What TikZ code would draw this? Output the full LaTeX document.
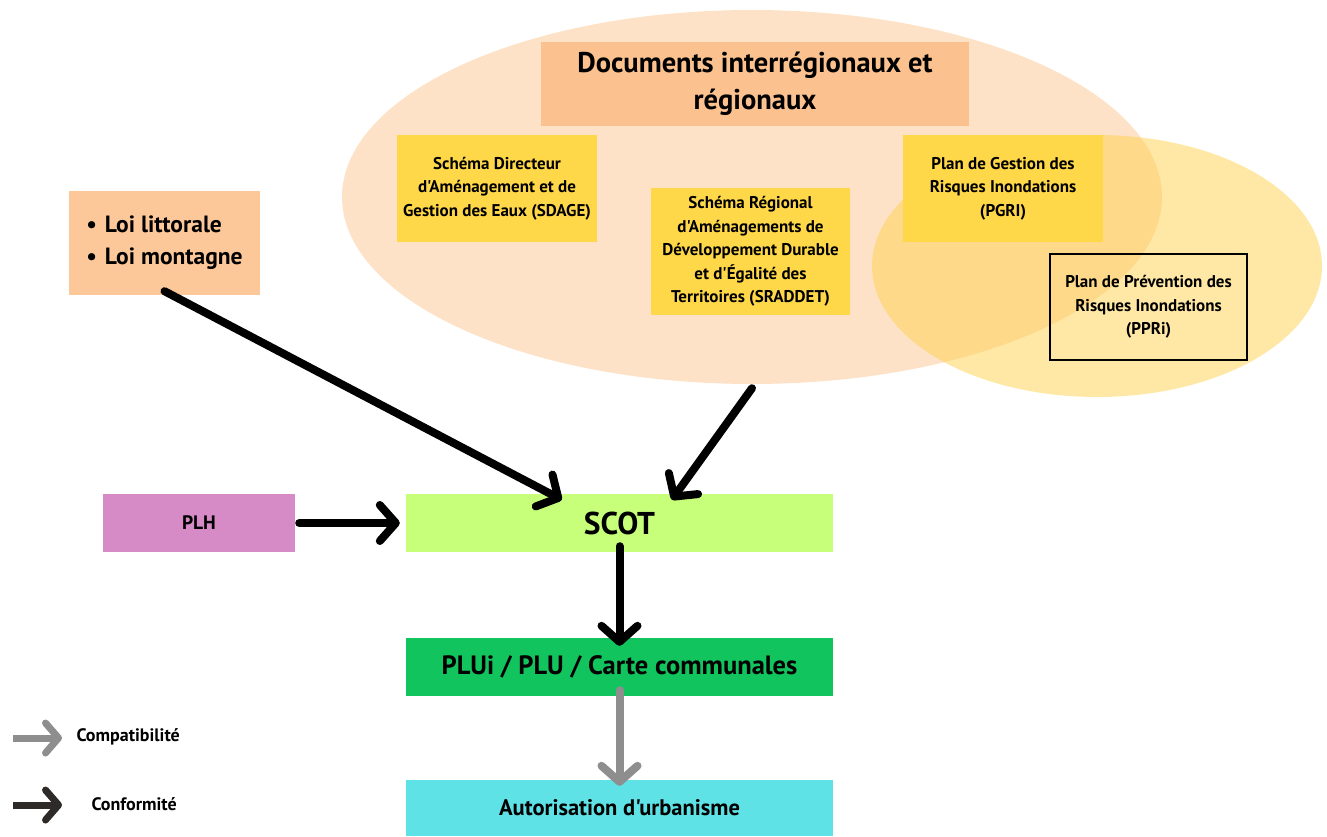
\documentclass[tikz,border=0pt]{standalone}
\usepackage{fontspec}
\setmainfont{PT Sans}[Ligatures=TeXOff]
\usetikzlibrary{shapes.geometric,arrows.meta}
\definecolor{peachell}{HTML}{FDE2C8}
\definecolor{yellell}{HTML}{FFD24D}
\definecolor{titlebox}{HTML}{FBC18F}
\definecolor{loibox}{HTML}{FCC799}
\definecolor{docbox}{HTML}{FFD84A}
\definecolor{plhbox}{HTML}{D68BC6}
\definecolor{scotbox}{HTML}{C8FF7A}
\definecolor{plubox}{HTML}{12C45E}
\definecolor{autbox}{HTML}{5EE2E6}
\definecolor{grayarrow}{HTML}{8E8E8E}
\definecolor{legdark}{HTML}{2E2A28}
\tikzset{
  box/.style={rectangle, inner sep=0pt, align=center, font=\bfseries},
  docnode/.style={box, fill=docbox, minimum width=200pt, font=\bfseries\fontsize{17}{23.5}\selectfont},
  bigarrow/.style={line width=8pt, line cap=round, -{Straight Barb[length=16pt, width=36pt, round]}},
  conf/.style={bigarrow, draw=black},
  compat/.style={bigarrow, draw=grayarrow},
  legarrow/.style={line width=7pt, -{Straight Barb[length=13pt, width=30pt, round]}},
  legtext/.style={anchor=west, font=\bfseries\fontsize{18}{20}\selectfont},
}
\begin{document}
\begin{tikzpicture}[x=1pt, y=-1pt]
\useasboundingbox (0,0) rectangle (1327,836);
% ellipses
\node[ellipse, fill=peachell, minimum width=820pt, minimum height=374pt, inner sep=0pt] (bigell) at (752,197) {};
\node[ellipse, fill=yellell, fill opacity=0.5, minimum width=450pt, minimum height=262pt, inner sep=0pt] (yelell) at (1097,266) {};
% boxes
\node[box, fill=titlebox, minimum width=428pt, minimum height=84pt, font=\bfseries\fontsize{28.5}{37}\selectfont] (title) at (755,84) {Documents interrégionaux et\\régionaux};
\node[docnode, minimum height=107pt] (sdage) at (497,188.5) {Schéma Directeur\\d'Aménagement et de\\Gestion des Eaux (SDAGE)};
\node[docnode, minimum height=127pt, minimum width=199pt] (sraddet) at (750.5,251.5) {Schéma Régional\\d'Aménagements de\\Développement Durable\\et d'Égalité des\\Territoires (SRADDET)};
\node[docnode, minimum height=107pt] (pgri) at (1003,188.5) {Plan de Gestion des\\Risques Inondations\\(PGRI)};
\node[box, draw=black, line width=2.5pt, minimum width=197pt, minimum height=106pt, font=\bfseries\fontsize{17}{23.5}\selectfont] (ppri) at (1148.5,307) {Plan de Prévention des\\Risques Inondations\\(PPRi)};
\node[box, fill=loibox, minimum width=191pt, minimum height=104pt, align=left, font=\bfseries\fontsize{23.5}{32}\selectfont] (loi) at (164.5,243) {\textbullet\hspace{8pt}Loi littorale\\\textbullet\hspace{8pt}Loi montagne};
\node[box, fill=plhbox, minimum width=192pt, minimum height=58pt, font=\bfseries\fontsize{19.5}{22}\selectfont] (plh) at (199,523) {PLH};
\node[box, fill=scotbox, minimum width=427pt, minimum height=58pt, font=\bfseries\fontsize{31.5}{34}\selectfont] (scot) at (619.5,523) {SCOT};
\node[box, fill=plubox, minimum width=427pt, minimum height=58pt, font=\bfseries\fontsize{26.5}{30}\selectfont] (plu) at (619.5,667) {PLUi / PLU / Carte communales};
\node[box, fill=autbox, minimum width=427pt, minimum height=56pt, font=\bfseries\fontsize{22.5}{26}\selectfont] (aut) at (619.5,808) {Autorisation d'urbanisme};
% connectors
\draw[conf] ([yshift=4pt]loi.south) -- ([xshift=156pt,yshift=-6pt]scot.north west);
\draw[conf] ([yshift=-4pt]bigell.south) -- ([xshift=266pt,yshift=-6pt]scot.north west);
\draw[conf] ([xshift=4pt]plh.east) -- ([xshift=-6pt]scot.west);
\draw[conf] ([yshift=6pt]scot.south) -- ([yshift=-8pt]plu.north);
\draw[compat] ([yshift=6pt]plu.south) -- ([yshift=-6pt]aut.north);
% legend
\coordinate (c1) at (13,738);
\coordinate (c2) at (62,738);
\coordinate (f1) at (13,805);
\coordinate (f2) at (62,805);
\draw[legarrow, draw=grayarrow] (c1) -- (c2);
\draw[legarrow, draw=legdark] (f1) -- (f2);
\node[legtext] (lcompat) at (73,737) {Compatibilité};
\node[legtext] (lconf) at (88,804) {Conformité};
\end{tikzpicture}
\end{document}
